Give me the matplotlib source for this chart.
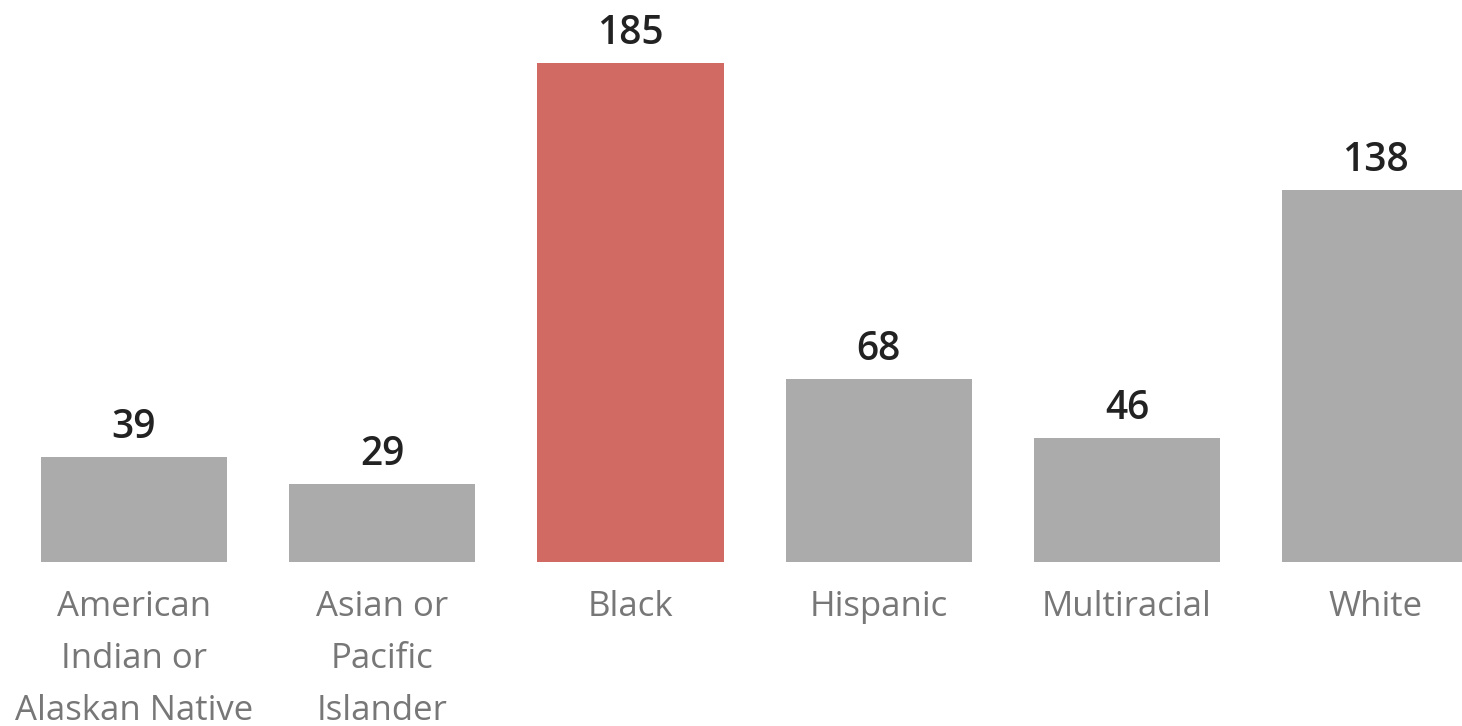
import matplotlib.pyplot as plt

categories = ["American\nIndian or\nAlaskan Native", "Asian or\nPacific\nIslander",
              "Black", "Hispanic", "Multiracial", "White"]
values = [39, 29, 185, 68, 46, 138]
highlight = "Black"

gray = "#ABABAB"
red = "#D06A63"
colors = [red if c == highlight else gray for c in categories]

plt.rcParams['font.family'] = ['Open Sans', 'DejaVu Sans']

fig = plt.figure(figsize=(14.62, 7.26), dpi=100)
ax = fig.add_axes([0, 164 / 726, 1, 562 / 726])

x = list(range(len(categories)))
bars = ax.bar(x, values, width=0.75, color=colors)

for xi, v in zip(x, values):
    ax.annotate(str(v), (xi, v), xytext=(0, 13.5), textcoords="offset points",
                ha="center", va="baseline", fontsize=28, fontweight="semibold",
                color="#222222")

ax.set_xlim(-0.54, 5.35)
ax.set_ylim(0, 208.4)
ax.set_xticks(x)
ax.set_xticklabels(categories, fontsize=25, color="#777777", linespacing=1.7)
ax.tick_params(axis="x", length=0, pad=20)
ax.set_yticks([])
for s in ax.spines.values():
    s.set_visible(False)

fig.savefig("out.png", dpi=100)
